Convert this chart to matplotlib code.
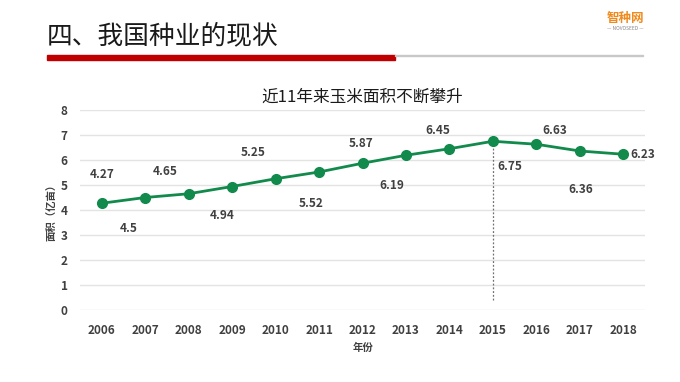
import matplotlib.pyplot as plt
from matplotlib.patches import Rectangle

plt.rcParams['font.family'] = ['Noto Sans CJK SC', 'DejaVu Sans']

years = ['2006', '2007', '2008', '2009', '2010', '2011', '2012',
         '2013', '2014', '2015', '2016', '2017', '2018']
area = [4.27, 4.5, 4.65, 4.94, 5.25, 5.52, 5.87, 6.19, 6.45, 6.75, 6.63, 6.36, 6.23]
area_labels = ['4.27', '4.5', '4.65', '4.94', '5.25', '5.52', '5.87',
               '6.19', '6.45', '6.75', '6.63', '6.36', '6.23']

# label offsets in points (x right, y up)
label_offsets = [(0, 21), (-12, -22), (-17, 16), (-7, -21), (-16, 19), (-6, -23),
                 (-1, 14), (-10, -22), (-8, 13), (12, -18), (13, 10), (1, -28), (5, 0)]

green = '#118a4c'
txt = '#404040'

fig = plt.figure(figsize=(6.8, 3.82), dpi=100)
fig.patch.set_facecolor('white')

# page header
fig.text(47 / 680, 1 - 36 / 382, '四、我国种业的现状', fontsize=18.5, color='#1a1a1a',
         va='center', ha='left')
fig.patches.append(Rectangle((47 / 680, 1 - 60 / 382), 348 / 680, 5 / 382,
                             transform=fig.transFigure, color='#c00000'))
fig.patches.append(Rectangle((395 / 680, 1 - 56 / 382), 248 / 680, 1 / 382,
                             transform=fig.transFigure, color='#c8c8c8'))
fig.text(625 / 680, 1 - 18 / 382, '智种网', fontsize=9, color='#f08a1c',
         fontweight='bold', ha='center', va='center')
fig.text(625 / 680, 1 - 29 / 382, '— NOVOSEED —', fontsize=3.5, color='#888888',
         ha='center', va='center')

ax = fig.add_axes([80 / 680, 1 - 310 / 382, 565 / 680, 200 / 382])
x = list(range(len(years)))

ax.plot(x, area, color=green, lw=2, marker='o', markersize=7, zorder=3)
ax.vlines(9, 0.4, area[9], colors='#707070', linestyles=(0, (1.5, 1.5)), lw=0.9, zorder=2)

for xi, v, lab, (dx, dy) in zip(x, area, area_labels, label_offsets):
    ha = 'left' if xi == len(x) - 1 else 'center'
    ax.annotate(lab, (xi, v), xytext=(dx, dy), textcoords='offset points',
                ha=ha, va='center', fontsize=8.5, fontweight='bold', color=txt)

ax.set_xlim(-0.5, 12.5)
ax.set_ylim(0, 8)
ax.set_yticks(range(0, 9))
ax.set_xticks(x)
ax.set_xticklabels(years)
ax.grid(axis='y', color='#e3e3e3', lw=1)
ax.set_axisbelow(True)
for s in ax.spines.values():
    s.set_visible(False)
ax.tick_params(length=0, labelsize=8.5, labelcolor=txt)
for t in ax.get_xticklabels() + ax.get_yticklabels():
    t.set_fontweight('bold')
ax.tick_params(axis='x', pad=10)
ax.tick_params(axis='y', pad=9)

ax.set_title('近11年来玉米面积不断攀升', fontsize=12, color='#1a1a1a', pad=6)
ax.set_xlabel('年份', fontsize=7.5, fontweight='bold', color=txt, labelpad=4)
ax.set_ylabel('面积（亿亩）', fontsize=7.5, fontweight='bold', color=txt, labelpad=2)

fig.savefig('out.png', dpi=100)
